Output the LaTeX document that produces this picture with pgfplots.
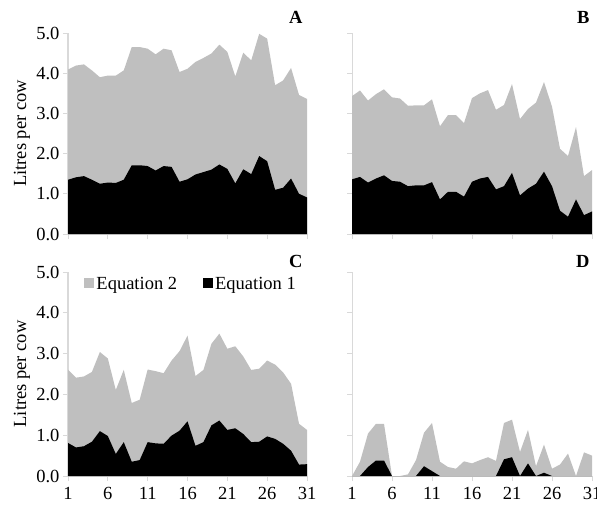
\documentclass[border=0pt]{standalone}
\usepackage{pgfplots}
\pgfplotsset{compat=1.18}
\usepackage{pgfplotstable}
\usepackage{fontspec}
\setmainfont{Liberation Serif}
\definecolor{areagray}{RGB}{191,191,191}
\definecolor{axgray}{RGB}{217,217,217}

\pgfplotstableread{
day eq2 eq1
1 4.09 1.35
2 4.19 1.41
3 4.22 1.44
4 4.07 1.35
5 3.90 1.25
6 3.94 1.28
7 3.94 1.27
8 4.07 1.35
9 4.65 1.71
10 4.65 1.71
11 4.61 1.69
12 4.47 1.58
13 4.61 1.69
14 4.57 1.67
15 4.03 1.30
16 4.11 1.36
17 4.28 1.48
18 4.38 1.54
19 4.49 1.60
20 4.71 1.73
21 4.53 1.62
22 3.92 1.26
23 4.51 1.61
24 4.32 1.49
25 4.98 1.94
26 4.86 1.81
27 3.70 1.10
28 3.82 1.15
29 4.13 1.38
30 3.46 1.00
31 3.36 0.91
}\dataA

\pgfplotstableread{
day eq2 eq1
1 3.43 1.36
2 3.57 1.42
3 3.32 1.28
4 3.48 1.38
5 3.60 1.46
6 3.40 1.32
7 3.37 1.30
8 3.19 1.19
9 3.20 1.21
10 3.20 1.21
11 3.35 1.29
12 2.68 0.86
13 2.96 1.05
14 2.96 1.05
15 2.76 0.93
16 3.38 1.30
17 3.50 1.38
18 3.58 1.42
19 3.09 1.11
20 3.21 1.19
21 3.73 1.52
22 2.86 0.96
23 3.11 1.13
24 3.27 1.25
25 3.78 1.55
26 3.17 1.19
27 2.12 0.58
28 1.94 0.43
29 2.66 0.86
30 1.44 0.47
31 1.59 0.56
}\dataB

\pgfplotstableread{
day eq2 eq1
1 2.61 0.81
2 2.41 0.70
3 2.44 0.73
4 2.55 0.84
5 3.04 1.10
6 2.88 0.98
7 2.11 0.54
8 2.60 0.83
9 1.79 0.35
10 1.87 0.39
11 2.61 0.83
12 2.57 0.80
13 2.52 0.79
14 2.83 0.99
15 3.06 1.11
16 3.44 1.34
17 2.45 0.74
18 2.60 0.83
19 3.24 1.24
20 3.49 1.36
21 3.12 1.13
22 3.18 1.17
23 2.93 1.03
24 2.60 0.83
25 2.63 0.84
26 2.83 0.97
27 2.73 0.91
28 2.54 0.79
29 2.26 0.62
30 1.28 0.28
31 1.13 0.29
}\dataC

\pgfplotstableread{
day eq2 eq1
1 0 0
2 0.35 0
3 1.04 0.22
4 1.28 0.38
5 1.28 0.38
6 0 0
7 0 0
8 0.04 0
9 0.39 0
10 1.06 0.24
11 1.30 0.12
12 0.35 0
13 0.22 0
14 0.18 0
15 0.36 0
16 0.31 0
17 0.39 0
18 0.46 0
19 0.37 0
20 1.30 0.41
21 1.38 0.46
22 0.59 0
23 1.13 0.31
24 0.24 0
25 0.77 0.08
26 0.18 0
27 0.28 0
28 0.55 0
29 0 0
30 0.58 0
31 0.50 0
}\dataD

\pgfplotsset{
  panel/.style={
    scale only axis,
    anchor=south west,
    xmin=1, xmax=31, ymin=0, ymax=5,
    xtick={1,6,...,31},
    ytick={0,1,...,5},
    axis x line*=bottom,
    axis y line*=left,
    axis line style={axgray, line width=1pt},
    tick style={axgray, line width=0.8pt},
    tick align=outside,
    major tick length=5pt,
    /pgf/number format/assume math mode=true,
    yticklabel style={/pgf/number format/.cd, fixed, fixed zerofill, precision=1},
    xticklabel style={yshift=-3pt},
    tick label style={font=\fontsize{18.5}{22}\selectfont, black},
    label style={font=\fontsize{18.5}{22}\selectfont},
    ylabel style={at={(axis description cs:-0.1925,0.5)}, anchor=center},
    clip=false,
  },
  noxlabels/.style={xticklabel={\mbox{}}},
  noylabels/.style={yticklabel={\mbox{}}},
}

\begin{document}
\begin{tikzpicture}[font=\fontsize{18.5}{22}\selectfont]
\useasboundingbox (0pt,0pt) rectangle (597pt,-507pt);

\begin{axis}[panel, noxlabels, at={(68pt,-234pt)}, width=239pt, height=201pt,
  ylabel={Litres per cow}]
\addplot[fill=areagray, draw=none] table[x=day,y=eq2]{\dataA} \closedcycle;
\addplot[fill=black, draw=none] table[x=day,y=eq1]{\dataA} \closedcycle;
\end{axis}

\begin{axis}[panel, noxlabels, noylabels, at={(352pt,-234pt)}, width=240pt, height=201pt]
\addplot[fill=areagray, draw=none] table[x=day,y=eq2]{\dataB} \closedcycle;
\addplot[fill=black, draw=none] table[x=day,y=eq1]{\dataB} \closedcycle;
\end{axis}

\begin{axis}[panel, at={(68pt,-476pt)}, width=239pt, height=204pt,
  ylabel={Litres per cow},
  legend columns=2,
  legend style={draw=none, fill=none, at={(axis description cs:0.068,0.94)}, anchor=west,
    font=\fontsize{18.5}{22}\selectfont, inner sep=0pt,
    /tikz/every even column/.append style={column sep=24pt}},
  legend image code/.code={\fill[#1] (0pt,-4pt) rectangle (10pt,6pt);}]
\addplot[fill=areagray, draw=none] table[x=day,y=eq2]{\dataC} \closedcycle;
\addlegendentry{Equation 2}
\addplot[fill=black, draw=none] table[x=day,y=eq1]{\dataC} \closedcycle;
\addlegendentry{Equation 1}
\end{axis}

\begin{axis}[panel, noylabels, at={(352pt,-476pt)}, width=240pt, height=204pt]
\addplot[fill=areagray, draw=none] table[x=day,y=eq2]{\dataD} \closedcycle;
\addplot[fill=black, draw=none] table[x=day,y=eq1]{\dataD} \closedcycle;
\end{axis}

\node[anchor=base east, font=\fontsize{18.5}{22}\selectfont\bfseries] at (306pt,-23pt) {A};
\node[anchor=base east, font=\fontsize{18.5}{22}\selectfont\bfseries] at (593pt,-23pt) {B};
\node[anchor=base east, font=\fontsize{18.5}{22}\selectfont\bfseries] at (306pt,-267pt) {C};
\node[anchor=base east, font=\fontsize{18.5}{22}\selectfont\bfseries] at (593pt,-267pt) {D};
\end{tikzpicture}
\end{document}
